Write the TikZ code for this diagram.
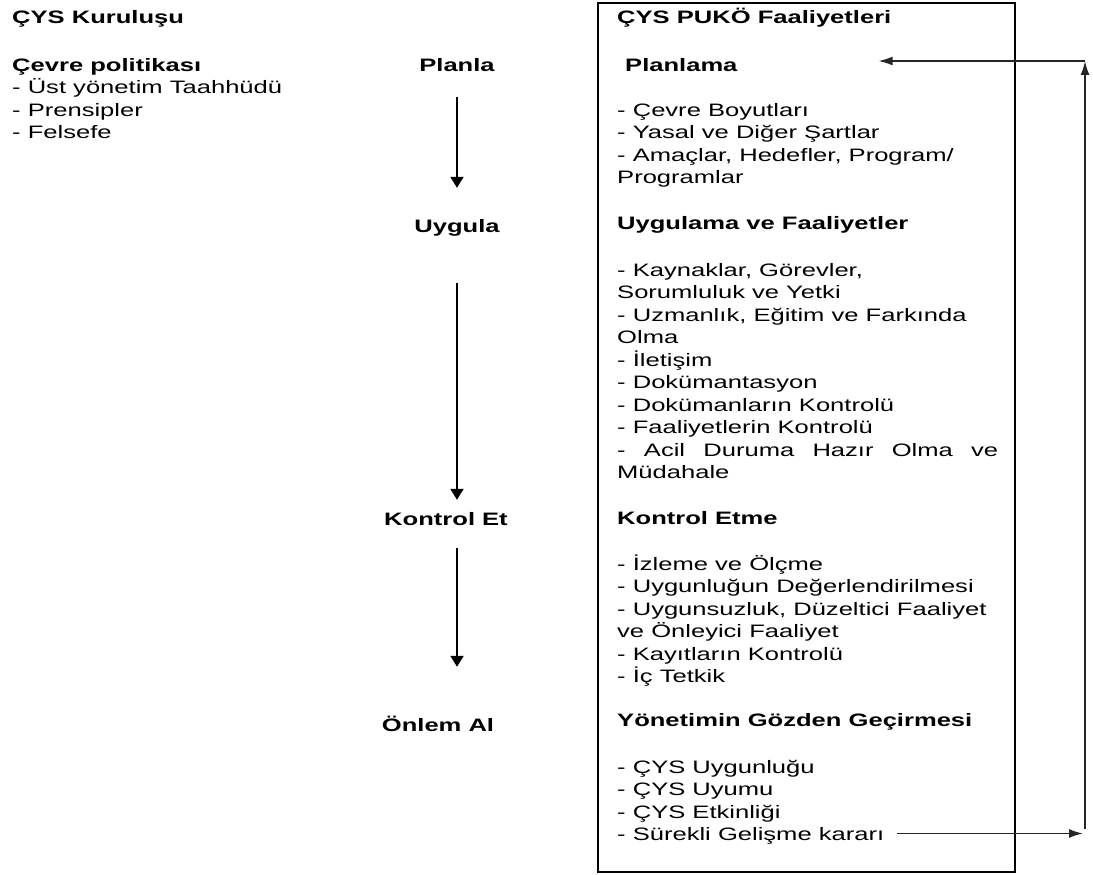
\documentclass[tikz,border=0pt]{standalone}
\usepackage{fontspec}
\setmainfont{Liberation Sans}[FakeStretch=1.42]
\usetikzlibrary{arrows.meta}

\begin{document}
\begin{tikzpicture}[x=1pt, y=-1pt,
  txt/.style={anchor=base west, inner sep=0pt, align=left, font=\fontsize{18}{22.5}\selectfont},
  hd/.style={txt, font=\fontsize{18}{22.5}\selectfont\bfseries},
  stage/.style={anchor=base, inner sep=0pt, text height=13pt, text depth=4pt, font=\fontsize{18}{22.5}\selectfont\bfseries},
  down/.style={line width=2pt, -{Triangle[length=11pt,width=13pt]}},
  fb/.style={line width=1.5pt, draw=black!85, -{Latex[length=14pt,width=9pt]}}]
\useasboundingbox (0,0) rectangle (1093,875);

% sol sutun (cok satirli dugumler son satirin tabanina oturur)
\node[hd] (kurulus) at (12,24) {ÇYS Kuruluşu};
\node[hd] (politika) at (12,71) {Çevre politikası};
\node[txt] (ilkeler) at (12,139) {- Üst yönetim Taahhüdü\\- Prensipler\\- Felsefe};

% PUKO adimlari
\node[stage] (planla) at (457,71) {Planla};
\node[stage] (uygula) at (457,232) {Uygula};
\node[stage] (kontrol) at (446,525) {Kontrol Et};
\node[stage] (onlem) at (438,731) {Önlem Al};
\draw[down, shorten <=22pt, shorten >=31pt] (planla.south) -- (uygula.north);
\draw[down, shorten <=47pt, shorten >=12pt] (uygula.south) -- (uygula.south |- kontrol.north);
\draw[down, shorten <=19pt, shorten >=51pt] (uygula.south |- kontrol.south) -- (uygula.south |- onlem.north);

% faaliyetler kutusu
\draw[line width=2pt] (598,3) rectangle (1015,872);
\node[hd] (puko) at (617,24) {ÇYS PUKÖ Faaliyetleri};
\node[hd] (planlama) at (625,71) {Planlama};
\node[txt] (planlist) at (617,183.5) {- Çevre Boyutları\\- Yasal ve Diğer Şartlar\\- Amaçlar, Hedefler, Program/\\Programlar};
\node[hd] (uygulama) at (617,229) {Uygulama ve Faaliyetler};
\node[txt] (uyglist) at (617,478.5) {- Kaynaklar, Görevler,\\Sorumluluk ve Yetki\\- Uzmanlık, Eğitim ve Farkında\\Olma\\- İletişim\\- Dokümantasyon\\- Dokümanların Kontrolü\\- Faaliyetlerin Kontrolü\\\makebox[381pt][s]{- Acil Duruma Hazır Olma ve}\\Müdahale};
\node[hd] (kontroletme) at (617,524) {Kontrol Etme};
\node[txt] (kontlist) at (617,682.5) {- İzleme ve Ölçme\\- Uygunluğun Değerlendirilmesi\\- Uygunsuzluk, Düzeltici Faaliyet\\ve Önleyici Faaliyet\\- Kayıtların Kontrolü\\- İç Tetkik};
\node[hd] (yonetim) at (617,726) {Yönetimin Gözden Geçirmesi};
\node[txt] (yonlist) at (617,818) {- ÇYS Uygunluğu\\- ÇYS Uyumu\\- ÇYS Etkinliği};
\node[txt, text height=15pt, text depth=2pt] (karar) at (617,840) {- Sürekli Gelişme kararı};

% geri besleme
\coordinate (fbt) at (1085,61);
\coordinate (fbb) at (karar.east -| fbt);
\draw[fb, shorten <=13pt, shorten >=2pt] (karar.east) -- (fbb);
\draw[fb] ([yshift=5pt]fbb) -- (fbt);
\draw[fb, shorten >=141pt] (fbt) -- (fbt -| planlama.east);
\end{tikzpicture}
\end{document}
